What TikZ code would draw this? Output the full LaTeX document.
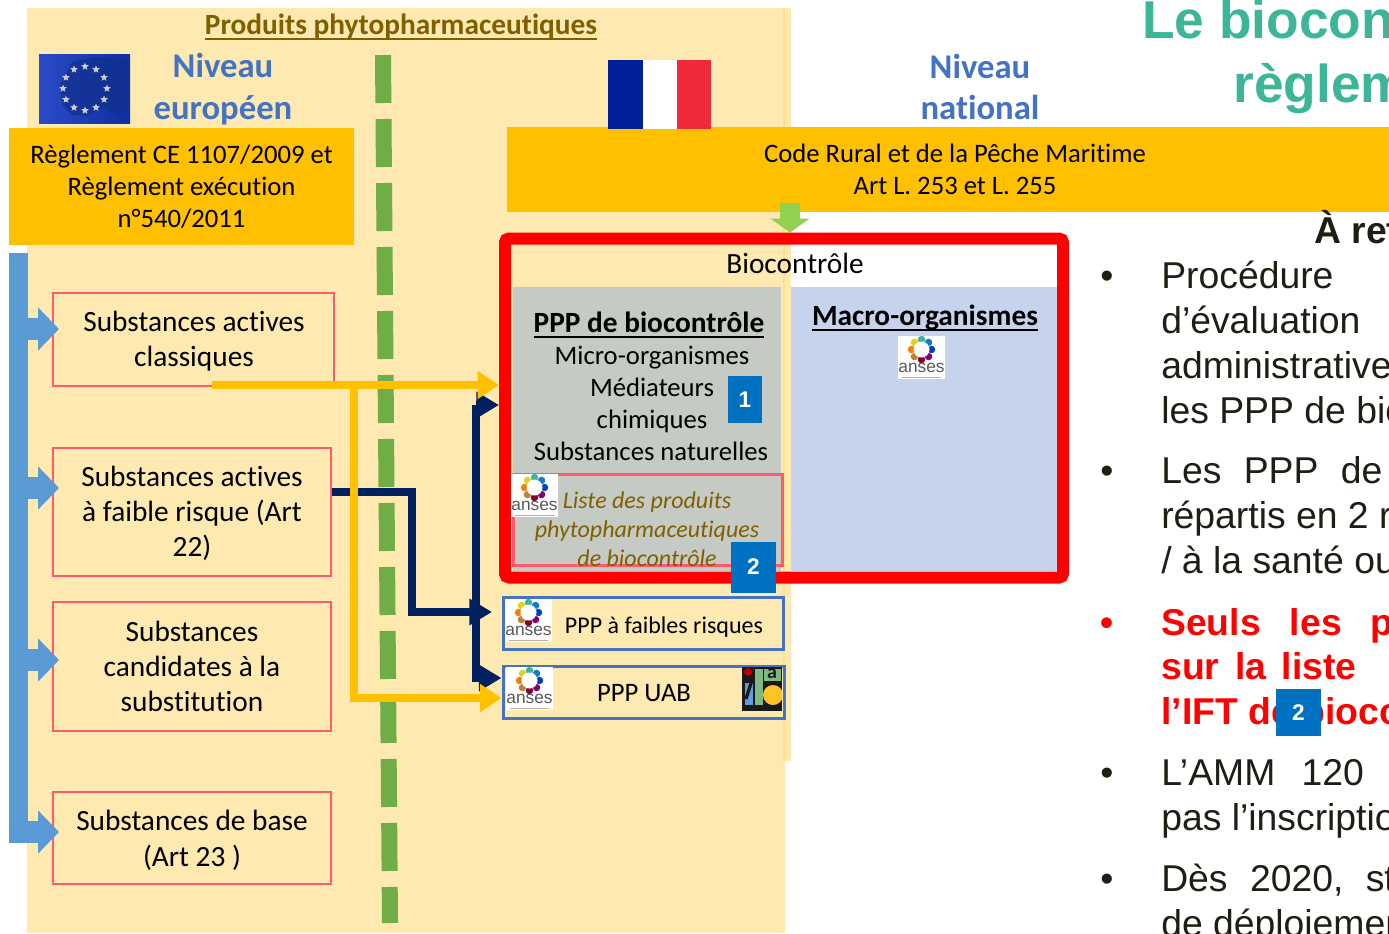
\documentclass[tikz,border=0pt]{standalone}
\usepackage{fontspec}
\setmainfont{Carlito}[Ligatures={NoCommon}]
\newfontfamily\arial{Liberation Sans}
\usetikzlibrary{arrows.meta,shapes.geometric,calc}
\definecolor{cream}{HTML}{FEE9B0}
\definecolor{creamd}{HTML}{FFE08F}
\definecolor{gold}{HTML}{FFC000}
\definecolor{olive}{HTML}{7F6000}
\definecolor{niveau}{HTML}{4472C4}
\definecolor{pinkline}{HTML}{FF5A6E}
\definecolor{barblue}{HTML}{5B9BD5}
\definecolor{dashgreen}{HTML}{70AD47}
\definecolor{navy}{HTML}{002060}
\definecolor{badge}{HTML}{0070C0}
\definecolor{greybox}{HTML}{C6CAC4}
\definecolor{macrob}{HTML}{C5D3EC}
\definecolor{tealt}{HTML}{3CB599}
\definecolor{bodyc}{HTML}{201E14}
\definecolor{arrgreen}{HTML}{92D050}
\definecolor{frblue}{HTML}{00209A}
\definecolor{frred}{HTML}{EF2B3B}
\definecolor{euleft}{HTML}{2A4BC8}
\definecolor{euright}{HTML}{0E2F9E}
\definecolor{eumap}{HTML}{12308F}
\def\px{0.75pt}
\newcommand\ulx[1]{\setbox0\hbox{#1}\rlap{\rule[-.2em]{\wd0}{.07em}}\box0}
\tikzset{
  x=0.75pt,y=-0.75pt,
  sized/.style 2 args={minimum width={#1*\px},minimum height={#2*\px},inner sep=0pt},
  lab/.style={inner sep=0pt,align=center,font=\fontsize{20}{24}\selectfont},
  pinkbox/.style={draw=pinkline,line width=1.5pt},
  pinktext/.style={inner sep=0pt,align=center,font=\fontsize{22}{26.25}\selectfont},
  goldbox/.style={fill=gold,align=center,font=\fontsize{20}{24}\selectfont},
  pppbox/.style={draw=niveau,line width=2.25pt},
  lvl/.style={inner sep=0pt,align=center,text=niveau,font=\fontsize{26}{31}\selectfont\bfseries},
  badgebox/.style={fill=badge,text=white,font=\arial\bfseries\fontsize{17}{20}\selectfont},
  txtline/.style={inner sep=0pt,anchor=base west,text=bodyc,font=\arial\fontsize{28}{28}\selectfont},
  redline/.style={txtline,text=red,font=\arial\bfseries\fontsize{28}{28}\selectfont},
  goldarrow/.style={draw=gold,line width=6pt,-{Triangle[length=16pt,width=20pt]}},
  navyarrow/.style={draw=navy,line width=6pt,-{Triangle[length=17pt,width=19pt]}},
  navyline/.style={draw=navy,line width=6pt},
  bararrow/.style={draw=barblue,line width=16.5pt,-{Triangle[length=15.75pt,width=31.5pt]}},
}
% #1 name, #2 left, #3 top
\newcommand\anseslogo[3]{%
  \begin{scope}[shift={(#2,#3)}]
    \fill[white] (0,0) rectangle (47,43);
    \foreach \a/\c in {90/tealt,45/cyan!60!blue,0/blue!50!teal,-45/violet,-90/purple!70!black,-135/brown,180/orange!80!brown,135/yellow!85!black}{
      \fill[\c] ($(23.5,13.5)+(\a:10 and -10)$) circle (2.8pt);
    }
    \fill[white] (23.5,13.5) circle (6pt);
    \node[inner sep=0pt,text=black!65,font=\arial\fontsize{13}{15}\selectfont] (#1) at (23.5,32) {anses};
    \draw[black!30,line width=.5pt] (4,41) -- (43,41);
  \end{scope}}
\begin{document}
\begin{tikzpicture}
\useasboundingbox (0,0) rectangle (1389,933);
\clip (0,0) rectangle (1389,933);
% background panel
\fill[cream] (785,8) rectangle (791,761);
\fill[cream] (27,8) rectangle (785,933);
\fill[creamd] (783,8) rectangle (785,761);
% title
\node[inner sep=0pt,text=olive,font=\fontsize{22}{25}\selectfont\bfseries] (title) at (401,27) {\ulx{Produits phytopharmaceutiques}};
\node[lvl] (eu) at (223,89) {Niveau\\européen};
\node[lvl] (fr) at (980,87) {Niveau\\national};
% EU flag
\fill[left color=euleft,right color=euright] (39,54) rectangle (130,123);
\fill[eumap,opacity=.75] (60,85) -- (72,62) -- (95,57) -- (128,60) -- (130,100) -- (118,115) -- (100,108) -- (88,116) -- (72,115) -- (62,104) -- cycle;
\foreach \a in {0,30,...,330}{
  \node[star,star points=5,star point ratio=2.3,fill=black!20,inner sep=0pt,minimum size=6pt] (st\a) at ($(85,88.5)+(\a:22 and -22)$) {};
}
% title, right
\node[inner sep=0pt,anchor=base west,text=tealt,font=\arial\bfseries\fontsize{40}{40}\selectfont] (t1) at (1142,38) {Le biocon};
\node[inner sep=0pt,anchor=base west,text=tealt,font=\arial\bfseries\fontsize{40}{40}\selectfont] (t2) at (1233,102) {règlem};
% gold boxes
\node[goldbox,sized={345}{117}] (reg) at (181.5,186.5) {Règlement CE 1107/2009 et\\Règlement exécution\\n°540/2011};
\fill[gold] (507,127) rectangle (1389,212);
\node[inner sep=0pt,align=center,font=\fontsize{20}{24}\selectfont] (cr) at (955,169.5) {Code Rural et de la Pêche Maritime\\Art L. 253 et L. 255};
\coordinate (crs) at (790,203);
% French flag
\fill[frblue] (608,60) rectangle (643,129);
\fill[white] (643,60) rectangle (677,129);
\fill[frred] (677,60) rectangle (711,129);
% dashed separator
\draw[dashgreen,line width=12pt,dash pattern=on 36pt off 12pt] (383,55) -- (390,923);
% inside red frame
\fill[white] (791,244) rectangle (1057,287);
\fill[macrob] (791,287) rectangle (1057,571);
\fill[greybox] (513,287) rectangle (781,571);
\node[rounded corners=3pt,draw=red,line width=9pt,sized={558}{339}] (rb) at (784,408) {};
\node[lab,font=\fontsize{22}{24}\selectfont] (bc) at (795,263) {Biocontrôle};
\node[inner sep=0pt,font=\fontsize{22}{24}\selectfont\bfseries] (pb) at (649,325) {\ulx{PPP de biocontrôle}};
\node[lab] (mo) at (652,358) {Micro-organismes};
\node[lab] (me) at (652,387) {Médiateurs};
\node[lab] (ch) at (652,421) {chimiques};
\node[lab] (sn) at (651,451) {Substances naturelles};
\node[draw=pinkline,line width=2.25pt,sized={269}{91}] (liste) at (648,520) {};
\node[inner sep=0pt,align=center,text=olive,font=\fontsize{18}{21.75}\selectfont\itshape] (lt) at (647,529) {Liste des produits\\phytopharmaceutiques\\de biocontrôle};
\node[inner sep=0pt,font=\fontsize{22}{24}\selectfont\bfseries] (mc) at (925,318) {\ulx{Macro-organismes}};
\anseslogo{al1}{898}{336}
\anseslogo{al2}{511}{474}
% PPP boxes
\node[pppbox,sized={280}{52}] (fr1) at (643,623) {};
\node[pppbox,sized={281}{52}] (uab) at (643.5,692) {};
\node[lab,font=\fontsize{18}{24}\selectfont] (frt) at (664,627) {PPP à faibles risques};
\node[lab] (uabt) at (644,693) {PPP UAB};
\anseslogo{al3}{505}{599}
\anseslogo{al4}{506}{667}
% UAB logo
\begin{scope}
  \clip (742,667) rectangle (782,711);
  \fill[black!90] (742,667) rectangle (782,711);
  \fill[cyan!60!blue!65] (745,683) rectangle (753,705);
  \draw[black!90,line width=2.5pt] (752,680) -- (746,699);
  \fill[red!75!black] (748,672) circle (3pt);
  \fill[green!45!black!50] (755,669) rectangle (763,705);
  \fill[green!45!black!50] (764,669) rectangle (781,681);
  \node[inner sep=0pt,font=\fontsize{15}{15}\selectfont\bfseries,text=black!90] (ua) at (772,674) {a};
  \fill[orange!55!yellow!85!white] (773,695) circle (7.5pt);
\end{scope}
% substances
\node[pinkbox,sized={281}{93}] (sa1) at (193.5,339.5) {};
\node[pinktext] (st1) at (194,341.5) {Substances actives\\classiques};
\node[pinkbox,sized={278}{128}] (sa2) at (192,512) {};
\node[pinktext] (st2) at (192,513) {Substances actives\\à faible risque (Art\\22)};
\node[pinkbox,sized={278}{129}] (sa3) at (192,666.5) {};
\node[pinktext] (st3) at (192,666) {Substances\\candidates à la\\substitution};
\node[pinkbox,sized={278}{92}] (sa4) at (192,838) {};
\node[pinktext,font=\fontsize{22}{27}\selectfont] (st4) at (192,840) {Substances de base\\(Art 23 )};
% blue bar and arrows
\node[fill=barblue,sized={19}{590}] (bar) at (18.5,548) {};
\coordinate (b1) at (59,329);
\coordinate (b2) at (59,488);
\coordinate (b3) at (59,660);
\coordinate (b4) at (59,832);
\foreach \n in {b1,b2,b3,b4}{ \draw[bararrow] (bar.east |- \n) -- (\n); }
% green arrow
\draw[draw=arrgreen,line width=15pt,-{Triangle[length=10.5pt,width=29pt]}] (crs) -- (crs |- rb.north);
% navy connectors
\coordinate (n1) at (412,492);
\coordinate (n2) at (412,612);
\coordinate (n3) at (492,612);
\coordinate (n4) at (476,405);
\coordinate (n5) at (476,678);
\draw[navyline] (sa2.east |- n1) -- (n1) -- (n2) -- (476,612);
\draw[navyarrow] (468,612) -- (n3);
\draw[navyarrow] (n4) -- (n4 -| rb.west);
\draw[navyline] (n4) -- (n5) -- (482,678);
\draw[navyarrow] (480,678) -- (n5 -| uab.west);
% gold connectors
\coordinate (g0) at (212,385);
\coordinate (g1) at (353.5,385);
\coordinate (g2) at (353.5,698);
\draw[goldarrow] (g0) -- (g0 -| rb.west);
\draw[goldarrow] (g1) -- (g2) -- (g2 -| uab.west);
% badges
\node[badgebox,sized={34}{47}] (bd1) at (745,399.5) {1};
\node[badgebox,sized={45}{51}] (bd2) at (753.5,567) {2};
% right text
\node[txtline,font=\arial\bfseries\fontsize{28}{28}\selectfont] (l0) at (1314,243) {À ret};
\node[txtline] (p1) at (1100,288) {•};
\node[txtline] (l1) at (1161,288) {Procédure};
\node[txtline] (l2) at (1161,333) {d’évaluation};
\node[txtline] (l3) at (1161,378) {administrative};
\node[txtline] (l4) at (1161,423) {les PPP de bio};
\node[txtline] (p2) at (1100,483) {•};
\node[txtline] (l5) at (1161,483) {Les\hspace{9pt} PPP\hspace{9pt} de};
\node[txtline] (l6) at (1161,528) {répartis en 2 r};
\node[txtline] (l7) at (1161,573) {/ à la santé ou};
\node[redline] (p3) at (1100,635) {•};
\node[redline] (l8) at (1161,635) {Seuls\hspace{14pt} les\hspace{14pt} p};
\node[redline] (l9) at (1161,679) {sur\hspace{4pt} la\hspace{4pt} liste};
\node[redline] (l10) at (1161,724) {l’IFT de bioco};
\node[txtline] (p4) at (1100,785) {•};
\node[txtline] (l11) at (1161,785) {L’AMM\hspace{12pt} 120};
\node[txtline] (l12) at (1161,830) {pas l’inscriptio};
\node[txtline] (p5) at (1100,891) {•};
\node[txtline] (l13) at (1161,891) {Dès\hspace{9pt} 2020,\hspace{9pt} st};
\node[txtline] (l14) at (1161,936) {de déploiemen};
\node[badgebox,sized={45}{47}] (bd3) at (1298.5,712.5) {2};
\end{tikzpicture}
\end{document}
